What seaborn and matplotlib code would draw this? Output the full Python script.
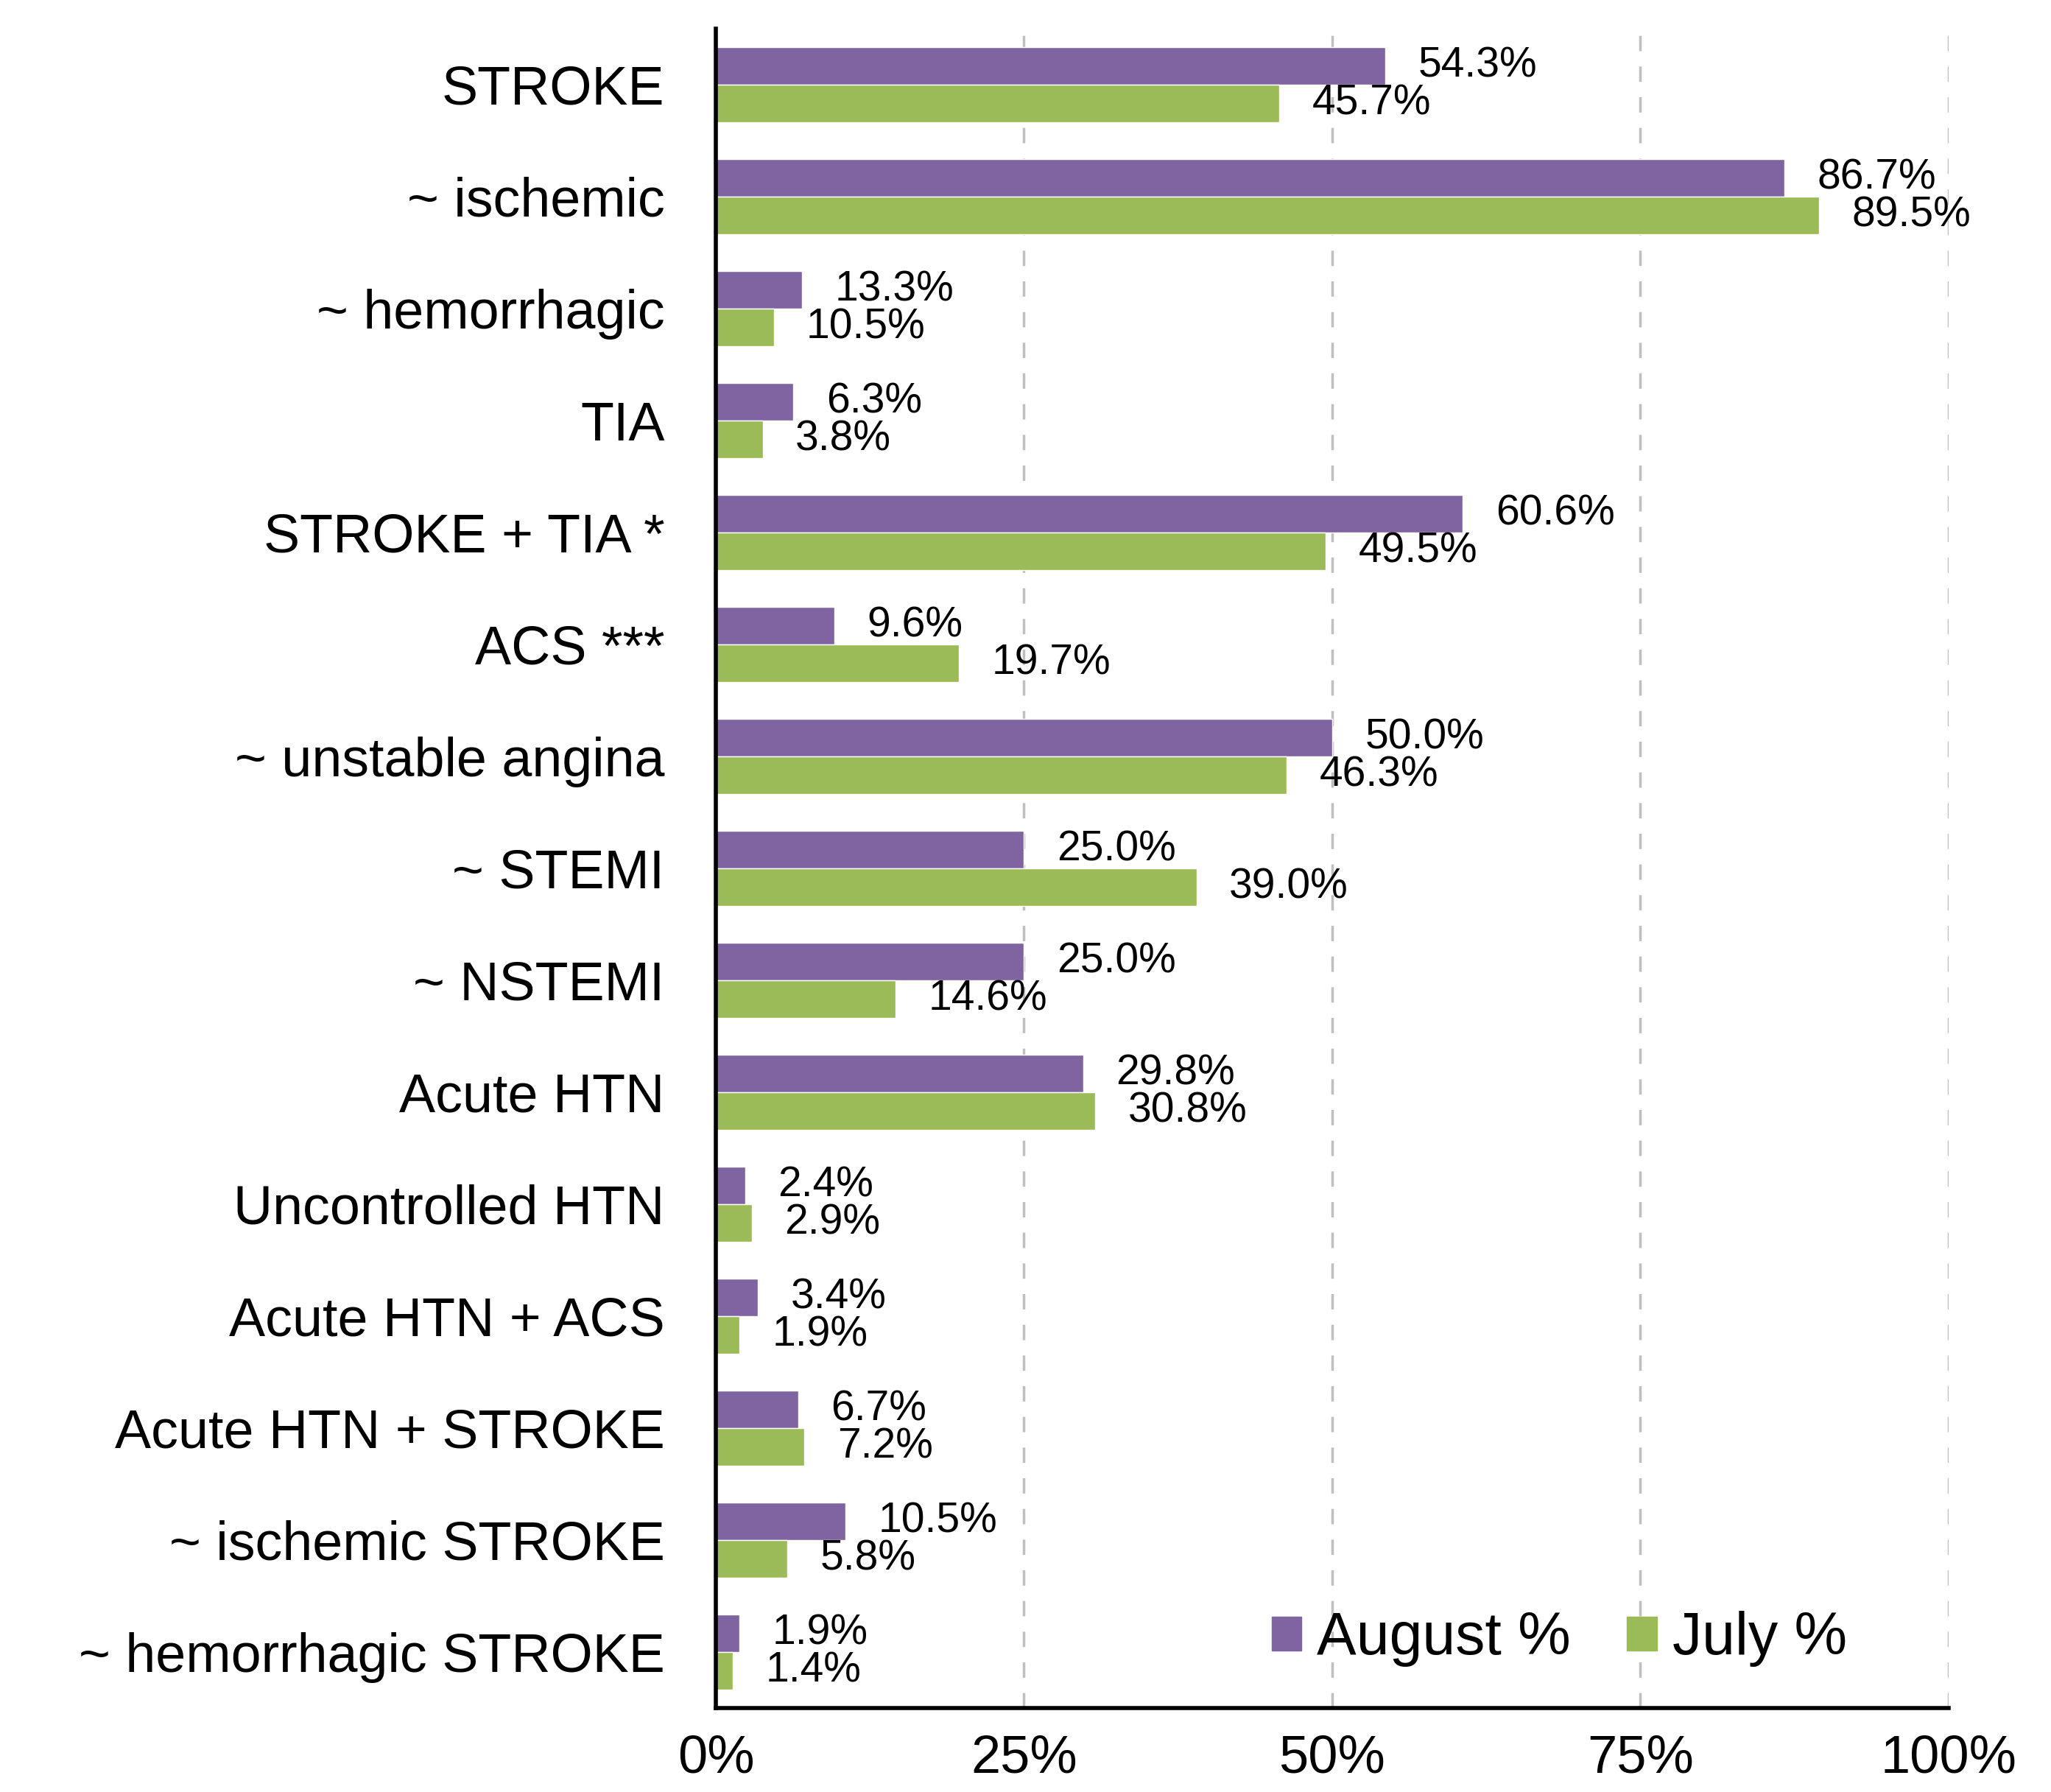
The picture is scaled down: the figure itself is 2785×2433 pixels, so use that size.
import pandas as pd
import seaborn as sns
import matplotlib.pyplot as plt
from matplotlib.patches import Patch

# Porcentaje por diagnóstico, agosto vs julio

categorias = ["STROKE", "~ ischemic", "~ hemorrhagic", "TIA", "STROKE + TIA *",
              "ACS ***", "~ unstable angina", "~ STEMI", "~ NSTEMI", "Acute HTN",
              "Uncontrolled HTN", "Acute HTN + ACS", "Acute HTN + STROKE",
              "~ ischemic STROKE", "~ hemorrhagic STROKE"]
# largo de las barras tal como se ven en el gráfico
agosto = [54.3, 86.7, 7.0, 6.3, 60.6, 9.6, 50.0, 25.0, 25.0, 29.8, 2.4, 3.4, 6.7, 10.5, 1.9]
julio = [45.7, 89.5, 4.7, 3.8, 49.5, 19.7, 46.3, 39.0, 14.6, 30.8, 2.9, 1.9, 7.2, 5.8, 1.4]
# etiquetas impresas junto a las barras
etiquetas_agosto = ["54.3%", "86.7%", "13.3%", "6.3%", "60.6%", "9.6%", "50.0%", "25.0%",
                    "25.0%", "29.8%", "2.4%", "3.4%", "6.7%", "10.5%", "1.9%"]
etiquetas_julio = ["45.7%", "89.5%", "10.5%", "3.8%", "49.5%", "19.7%", "46.3%", "39.0%",
                   "14.6%", "30.8%", "2.9%", "1.9%", "7.2%", "5.8%", "1.4%"]
series = ["August %", "July %"]
ticks_x = [0, 25, 50, 75, 100]

df = pd.DataFrame({
    "categoria": categorias * 2,
    "valor": agosto + julio,
    "serie": [series[0]] * len(categorias) + [series[1]] * len(categorias),
})

colores = {"August %": "#8064A2", "July %": "#9BBB59"}

sns.set_style("white")
plt.rcParams["font.family"] = ["Liberation Sans", "DejaVu Sans"]
plt.rcParams["text.color"] = "black"

fig, ax = plt.subplots(figsize=(27.85, 24.33), dpi=100)
fig.subplots_adjust(left=0.349, right=0.950, top=0.984, bottom=0.047)

sns.barplot(data=df, x="valor", y="categoria", hue="serie", order=categorias,
            hue_order=series, palette=colores, width=0.67, saturation=1,
            orient="h", ax=ax, legend=False)

for cont, etq in zip(ax.containers, [etiquetas_agosto, etiquetas_julio]):
    ax.bar_label(cont, labels=etq, padding=32, fontsize=41, color="black")

ax.set_xlim(0, 100)
ax.set_ylim(len(categorias) - 0.5, -0.5)
ax.set_xticks(ticks_x)
ax.set_xticklabels([f"{t}%" for t in ticks_x])
ax.xaxis.grid(True, linestyle=(0, (6, 6)), color="#BFBFBF", linewidth=2.5)
ax.set_axisbelow(True)
ax.set_xlabel("")
ax.set_ylabel("")
ax.tick_params(axis="y", length=0, pad=50, labelsize=53, labelcolor="black")
ax.tick_params(axis="x", length=0, pad=26, labelsize=52, labelcolor="black")

for s in ["top", "right"]:
    ax.spines[s].set_visible(False)
for s in ["left", "bottom"]:
    ax.spines[s].set_color("black")
    ax.spines[s].set_linewidth(4)

handles = [Patch(color=colores[s], label=s) for s in series]
ax.legend(handles=handles, loc="center left", bbox_to_anchor=(0.451, 0.041),
          ncol=2, frameon=False, fontsize=58, handlelength=0.5, handleheight=0.5,
          handletextpad=0.26, columnspacing=0.95, borderpad=0, borderaxespad=0,
          labelcolor="black")

plt.savefig("out.png", dpi=100)
